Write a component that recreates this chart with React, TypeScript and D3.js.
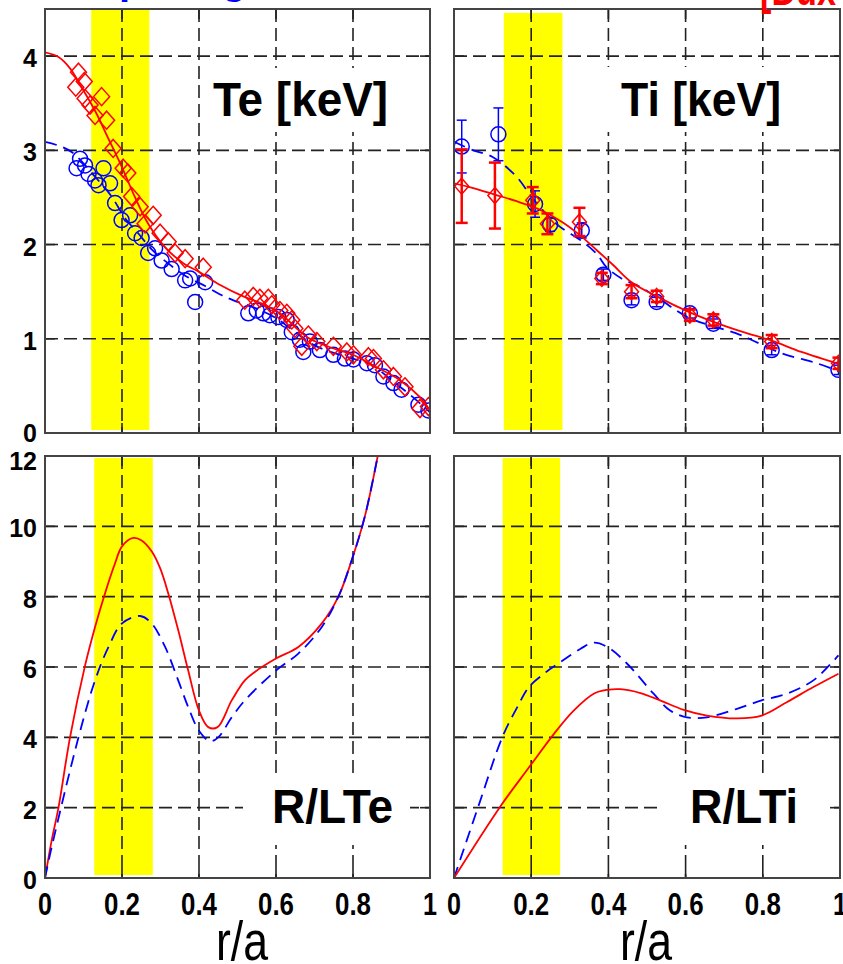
import React from 'react';
import * as d3 from 'd3';

// ---------------- data ----------------
// Te panel: fits [r/a, keV]
const teFitRed: [number, number][] = [
  [0, 4.04], [0.035, 3.99], [0.065, 3.87], [0.095, 3.67], [0.13, 3.42], [0.164, 3.13], [0.2, 2.82],
  [0.234, 2.5], [0.268, 2.22], [0.312, 1.97], [0.36, 1.8], [0.4, 1.71], [0.455, 1.57], [0.515, 1.45],
  [0.56, 1.38], [0.61, 1.27], [0.68, 1.02], [0.74, 0.91], [0.8, 0.83], [0.86, 0.7], [0.922, 0.56],
  [0.974, 0.38], [1.0, 0.24],
];
const teFitBlue: [number, number][] = [
  [0, 3.09], [0.035, 3.05], [0.07, 2.98], [0.13, 2.72], [0.173, 2.51], [0.208, 2.28], [0.242, 2.12],
  [0.277, 1.95], [0.32, 1.8], [0.364, 1.67], [0.416, 1.56], [0.455, 1.47], [0.488, 1.41], [0.55, 1.32],
  [0.6, 1.22], [0.65, 1.07], [0.7, 0.93], [0.75, 0.85], [0.8, 0.79], [0.85, 0.72], [0.9, 0.56],
  [0.95, 0.4], [1.0, 0.22],
];
// Te data points
const teRedPts: [number, number][] = [
  [0.087, 3.83], [0.102, 3.73], [0.08, 3.67], [0.104, 3.55], [0.117, 3.48], [0.147, 3.57], [0.13, 3.37],
  [0.16, 3.32], [0.177, 3.02], [0.203, 2.81], [0.215, 2.76], [0.225, 2.51], [0.247, 2.4], [0.26, 2.22],
  [0.281, 2.31], [0.299, 2.12], [0.32, 2.03], [0.338, 1.91], [0.364, 1.85], [0.411, 1.76],
  [0.519, 1.41], [0.541, 1.45], [0.558, 1.43], [0.58, 1.43], [0.589, 1.36], [0.61, 1.3], [0.628, 1.27],
  [0.641, 1.2], [0.649, 1.11], [0.684, 1.04], [0.706, 0.97], [0.667, 0.92], [0.749, 0.92], [0.784, 0.86],
  [0.801, 0.83], [0.84, 0.81], [0.853, 0.79], [0.879, 0.67], [0.905, 0.6], [0.935, 0.49], [0.974, 0.26],
  [0.996, 0.28],
];
const teBluePts: [number, number][] = [
  [0.091, 2.91], [0.082, 2.81], [0.104, 2.84], [0.113, 2.75], [0.13, 2.68], [0.152, 2.81], [0.139, 2.63],
  [0.169, 2.65], [0.182, 2.44], [0.199, 2.26], [0.221, 2.31], [0.234, 2.12], [0.251, 2.07], [0.268, 1.91],
  [0.286, 1.96], [0.303, 1.83], [0.329, 1.74], [0.364, 1.62], [0.377, 1.64], [0.416, 1.6], [0.39, 1.39],
  [0.528, 1.27], [0.55, 1.3], [0.567, 1.27], [0.584, 1.25], [0.606, 1.23], [0.628, 1.2], [0.641, 1.07],
  [0.662, 0.99], [0.671, 0.86], [0.688, 0.97], [0.714, 0.88], [0.749, 0.83], [0.779, 0.79], [0.801, 0.78],
  [0.836, 0.74], [0.857, 0.72], [0.879, 0.6], [0.905, 0.53], [0.926, 0.46], [0.97, 0.3], [0.996, 0.24],
];

// Ti panel: fits
const tiFitRed: [number, number][] = [
  [0, 2.65], [0.05, 2.6], [0.106, 2.53], [0.162, 2.46], [0.222, 2.37], [0.28, 2.24], [0.326, 2.1],
  [0.37, 1.94], [0.413, 1.78], [0.46, 1.6], [0.525, 1.45], [0.611, 1.28], [0.672, 1.18], [0.75, 1.07],
  [0.823, 0.98], [0.9, 0.86], [1.0, 0.73],
];
const tiFitBlue: [number, number][] = [
  [0, 3.09], [0.05, 3.0], [0.1, 2.93], [0.162, 2.72], [0.2, 2.51], [0.24, 2.32], [0.274, 2.19],
  [0.33, 2.04], [0.37, 1.9], [0.395, 1.76], [0.434, 1.64], [0.482, 1.55], [0.54, 1.4], [0.61, 1.22],
  [0.73, 1.06], [0.77, 0.99], [0.846, 0.85], [0.94, 0.74], [1.0, 0.65],
];
// Ti data points [r/a, keV, error]
const tiBluePts: [number, number, number][] = [
  [0.02, 3.04, 0.28], [0.115, 3.17, 0.28], [0.21, 2.43, 0.14], [0.249, 2.21, 0.07], [0.331, 2.15, 0.08],
  [0.387, 1.68, 0.06], [0.46, 1.41, 0.05], [0.525, 1.39, 0.05], [0.611, 1.27, 0.05], [0.672, 1.16, 0.05],
  [0.823, 0.88, 0.05], [0.996, 0.67, 0.05],
];
const tiRedPts: [number, number, number][] = [
  [0.02, 2.62, 0.39], [0.106, 2.52, 0.35], [0.204, 2.47, 0.14], [0.242, 2.22, 0.11], [0.325, 2.24, 0.15],
  [0.383, 1.64, 0.06], [0.46, 1.5, 0.07], [0.525, 1.45, 0.06], [0.611, 1.25, 0.06], [0.672, 1.2, 0.06],
  [0.823, 0.97, 0.07], [0.996, 0.74, 0.06],
];

// R/LTe
const rlteRed: [number, number][] = [
  [0, 0], [0.017, 1.05], [0.035, 2.0], [0.065, 4.0], [0.104, 6.04], [0.13, 7.14], [0.156, 8.1],
  [0.182, 8.95], [0.2, 9.43], [0.229, 9.67], [0.251, 9.6], [0.277, 9.29], [0.299, 8.81], [0.32, 8.1],
  [0.346, 7.05], [0.372, 5.9], [0.4, 4.76], [0.424, 4.29], [0.448, 4.29], [0.485, 5.05], [0.519, 5.62],
  [0.545, 5.86], [0.6, 6.24], [0.658, 6.57], [0.719, 7.24], [0.762, 8.0], [0.797, 9.05], [0.831, 10.29],
  [0.866, 12.1],
];
const rlteBlue: [number, number][] = [
  [0, 0], [0.017, 0.86], [0.087, 4.0], [0.13, 5.62], [0.165, 6.57], [0.2, 7.24], [0.247, 7.45],
  [0.277, 7.24], [0.312, 6.57], [0.346, 5.62], [0.372, 4.86], [0.4, 4.19], [0.429, 3.89], [0.45, 4.0],
  [0.485, 4.57], [0.519, 5.05], [0.6, 5.9], [0.658, 6.38], [0.719, 7.14], [0.762, 8.0], [0.797, 9.05],
  [0.831, 10.29], [0.866, 12.1],
];
// R/LTi
const rltiRed: [number, number][] = [
  [0, 0], [0.121, 2.05], [0.194, 3.14], [0.259, 4.1], [0.31, 4.76], [0.362, 5.24], [0.397, 5.35],
  [0.431, 5.37], [0.483, 5.26], [0.534, 5.05], [0.595, 4.78], [0.655, 4.62], [0.733, 4.54], [0.797, 4.62],
  [0.862, 5.0], [0.931, 5.43], [0.996, 5.81],
];
const rltiBlue: [number, number][] = [
  [0, 0], [0.065, 2.1], [0.125, 4.0], [0.164, 4.86], [0.194, 5.43], [0.233, 5.81], [0.276, 6.14],
  [0.328, 6.52], [0.362, 6.69], [0.397, 6.57], [0.448, 6.1], [0.517, 5.24], [0.56, 4.76], [0.603, 4.57],
  [0.655, 4.57], [0.733, 4.81], [0.797, 5.05], [0.862, 5.24], [0.931, 5.62], [0.996, 6.33],
];

// shaded yellow band per panel (r/a range)
const bandTL: [number, number] = [0.12, 0.271];
const bandTR: [number, number] = [0.129, 0.281];
const bandBL: [number, number] = [0.128, 0.28];
const bandBR: [number, number] = [0.126, 0.275];

const xTicks = [0.2, 0.4, 0.6, 0.8];
const xTickLabels = ['0', '0.2', '0.4', '0.6', '0.8', '1'];
const xTickLabelValues = [0, 0.2, 0.4, 0.6, 0.8, 1];
const tempTicks = [1, 2, 3, 4];
const tempTickLabels = ['0', '1', '2', '3', '4'];
const gradTicks = [2, 4, 6, 8, 10];
const gradTickLabels = ['0', '2', '4', '6', '8', '10', '12'];

// ---------------- drawing ----------------
const FONT = '"Liberation Sans", Arial, Helvetica, sans-serif';
const RED = '#ff0000';
const BLUE = '#0000ff';
const GRID = '#222';

type PanelProps = {
  id: string;
  x0: number; x1: number; y0: number; y1: number;
  ymax: number; yticks: number[]; band: [number, number]; bandTop: number;
  children?: (x: d3.ScaleLinear<number, number>, y: d3.ScaleLinear<number, number>) => React.ReactNode;
  label: string; labelX: number; labelY: number; labelLen: number;
  labelBox: [number, number, number, number];
};

function Panel(p: PanelProps) {
  const x = d3.scaleLinear().domain([0, 1]).range([p.x0, p.x1]);
  const y = d3.scaleLinear().domain([0, p.ymax]).range([p.y1, p.y0]);
  const tick = 10;
  return (
    <g>
      <defs>
        <clipPath id={`clip-${p.id}`}>
          <rect x={p.x0} y={p.y0} width={p.x1 - p.x0} height={p.y1 - p.y0} />
        </clipPath>
      </defs>
      <rect x={p.x0} y={p.y0} width={p.x1 - p.x0} height={p.y1 - p.y0} fill="#fff" />
      <rect x={x(p.band[0])} y={p.y0 + p.bandTop} width={x(p.band[1]) - x(p.band[0])} height={p.y1 - p.y0 - p.bandTop - 3} fill="#ffff00" />
      {/* dashed grid */}
      {xTicks.map((t) => (
        <line key={`gx${t}`} x1={x(t)} x2={x(t)} y1={p.y0} y2={p.y1} stroke={GRID} strokeWidth={1.6} strokeDasharray="13,6" />
      ))}
      {p.yticks.map((t) => (
        <line key={`gy${t}`} x1={p.x0} x2={p.x1} y1={y(t)} y2={y(t)} stroke={GRID} strokeWidth={1.6} strokeDasharray="13,6" />
      ))}
      {/* solid inward ticks */}
      {xTicks.map((t) => (
        <g key={`tx${t}`}>
          <line x1={x(t)} x2={x(t)} y1={p.y1} y2={p.y1 - tick} stroke={GRID} strokeWidth={1.6} />
          <line x1={x(t)} x2={x(t)} y1={p.y0} y2={p.y0 + tick} stroke={GRID} strokeWidth={1.6} />
        </g>
      ))}
      {p.yticks.map((t) => (
        <g key={`ty${t}`}>
          <line x1={p.x0} x2={p.x0 + tick} y1={y(t)} y2={y(t)} stroke={GRID} strokeWidth={1.6} />
          <line x1={p.x1} x2={p.x1 - tick} y1={y(t)} y2={y(t)} stroke={GRID} strokeWidth={1.6} />
        </g>
      ))}
      {/* label */}
      <rect x={p.labelBox[0]} y={p.labelBox[1]} width={p.labelBox[2]} height={p.labelBox[3]} fill="#fff" />
      <text x={p.labelX} y={p.labelY} fontFamily={FONT} fontWeight="bold" fontSize={48} fill="#000"
        textLength={p.labelLen} lengthAdjust="spacingAndGlyphs">{p.label}</text>
      <g clipPath={`url(#clip-${p.id})`}>{p.children && p.children(x, y)}</g>
      <rect x={p.x0} y={p.y0} width={p.x1 - p.x0} height={p.y1 - p.y0} fill="none" stroke="#444" strokeWidth={2} />
    </g>
  );
}

function curvePath(data: [number, number][], x: d3.ScaleLinear<number, number>, y: d3.ScaleLinear<number, number>) {
  return d3.line<[number, number]>().x((d) => x(d[0])).y((d) => y(d[1])).curve(d3.curveCatmullRom.alpha(0.5))(data) || '';
}

function diamond(cx: number, cy: number, w = 8, h = 9) {
  return `M${cx},${cy - h}L${cx + w},${cy}L${cx},${cy + h}L${cx - w},${cy}Z`;
}

export default function App() {
  const L = { x0: 45, x1: 430 };
  const R = { x0: 454, x1: 840 };
  const T = { y0: 9, y1: 433 };
  const B = { y0: 456, y1: 878 };

  const yTop = d3.scaleLinear().domain([0, 4.5]).range([T.y1, T.y0]);
  const yBot = d3.scaleLinear().domain([0, 12]).range([B.y1, B.y0]);
  const xLeft = d3.scaleLinear().domain([0, 1]).range([L.x0, L.x1]);
  const xRight = d3.scaleLinear().domain([0, 1]).range([R.x0, R.x1]);

  return (
    <svg width={843} height={964} style={{ position: 'absolute', left: 0, top: 0, background: '#fff' }}>
      <rect x={0} y={0} width={843} height={964} fill="#fff" />
      {/* clipped title fragments at the very top */}
      <text x={70} y={-6} fontFamily={FONT} fontWeight="bold" fontSize={40} fill={BLUE}>Exp.</text>
      <text x={222} y={-6} fontFamily={FONT} fontWeight="bold" fontSize={40} fill={BLUE}>gradients</text>

      {/* Te */}
      <Panel id="tl" x0={L.x0} x1={L.x1} y0={T.y0} y1={T.y1} ymax={4.5} yticks={tempTicks} band={bandTL} bandTop={1}
        label="Te [keV]" labelX={213} labelY={116} labelLen={175} labelBox={[203, 68, 195, 64]}>
        {(x, y) => (
          <g>
            <path d={curvePath(teFitBlue, x, y)} fill="none" stroke={BLUE} strokeWidth={1.8} strokeDasharray="12,7" />
            {teBluePts.map((d, i) => (
              <circle key={i} cx={x(d[0])} cy={y(d[1])} r={7.5} fill="none" stroke={BLUE} strokeWidth={1.5} />
            ))}
            <path d={curvePath(teFitRed, x, y)} fill="none" stroke={RED} strokeWidth={1.8} />
            {teRedPts.map((d, i) => (
              <path key={i} d={diamond(x(d[0]), y(d[1]))} fill="none" stroke={RED} strokeWidth={1.5} />
            ))}
          </g>
        )}
      </Panel>

      {/* Ti */}
      <Panel id="tr" x0={R.x0} x1={R.x1} y0={T.y0} y1={T.y1} ymax={4.5} yticks={tempTicks} band={bandTR} bandTop={4}
        label="Ti [keV]" labelX={621} labelY={116} labelLen={160} labelBox={[606, 67, 194, 65]}>
        {(x, y) => (
          <g>
            <path d={curvePath(tiFitBlue, x, y)} fill="none" stroke={BLUE} strokeWidth={1.8} strokeDasharray="12,7" />
            {tiBluePts.map((d, i) => (
              <g key={i}>
                <line x1={x(d[0])} x2={x(d[0])} y1={y(d[1] - d[2])} y2={y(d[1] + d[2])} stroke={BLUE} strokeWidth={1.5} />
                <line x1={x(d[0]) - 5} x2={x(d[0]) + 5} y1={y(d[1] + d[2])} y2={y(d[1] + d[2])} stroke={BLUE} strokeWidth={1.5} />
                <line x1={x(d[0]) - 5} x2={x(d[0]) + 5} y1={y(d[1] - d[2])} y2={y(d[1] - d[2])} stroke={BLUE} strokeWidth={1.5} />
                <circle cx={x(d[0])} cy={y(d[1])} r={7.5} fill="none" stroke={BLUE} strokeWidth={1.5} />
              </g>
            ))}
            <path d={curvePath(tiFitRed, x, y)} fill="none" stroke={RED} strokeWidth={1.8} />
            {tiRedPts.map((d, i) => (
              <g key={i}>
                <line x1={x(d[0])} x2={x(d[0])} y1={y(d[1] - d[2])} y2={y(d[1] + d[2])} stroke={RED} strokeWidth={2.5} />
                <line x1={x(d[0]) - 6} x2={x(d[0]) + 6} y1={y(d[1] + d[2])} y2={y(d[1] + d[2])} stroke={RED} strokeWidth={2.5} />
                <line x1={x(d[0]) - 6} x2={x(d[0]) + 6} y1={y(d[1] - d[2])} y2={y(d[1] - d[2])} stroke={RED} strokeWidth={2.5} />
                <path d={diamond(x(d[0]), y(d[1]), 7, 8)} fill="none" stroke={RED} strokeWidth={1.5} />
              </g>
            ))}
          </g>
        )}
      </Panel>

      {/* R/LTe */}
      <Panel id="bl" x0={L.x0} x1={L.x1} y0={B.y0} y1={B.y1} ymax={12} yticks={gradTicks} band={bandBL} bandTop={2}
        label="R/LTe" labelX={272} labelY={823} labelLen={121} labelBox={[243, 775, 167, 70]}>
        {(x, y) => (
          <g>
            <path d={curvePath(rlteRed, x, y)} fill="none" stroke={RED} strokeWidth={1.8} />
            <path d={curvePath(rlteBlue, x, y)} fill="none" stroke={BLUE} strokeWidth={1.8} strokeDasharray="12,7" />
          </g>
        )}
      </Panel>

      {/* R/LTi */}
      <Panel id="br" x0={R.x0} x1={R.x1} y0={B.y0} y1={B.y1} ymax={12} yticks={gradTicks} band={bandBR} bandTop={2}
        label="R/LTi" labelX={690} labelY={823} labelLen={108} labelBox={[662, 775, 166, 70]}>
        {(x, y) => (
          <g>
            <path d={curvePath(rltiBlue, x, y)} fill="none" stroke={BLUE} strokeWidth={1.8} strokeDasharray="12,7" />
            <path d={curvePath(rltiRed, x, y)} fill="none" stroke={RED} strokeWidth={1.8} />
          </g>
        )}
      </Panel>

      {/* y tick labels */}
      {tempTickLabels.map((s, i) => (
        <text key={`ytl${i}`} x={37} y={yTop(i) + (i === 0 ? 9 : 11)} textAnchor="end" fontFamily={FONT} fontWeight="bold" fontSize={25}>{s}</text>
      ))}
      {gradTickLabels.map((s, i) => (
        <text key={`ybl${i}`} x={37} y={yBot(i * 2) + (i === 6 ? 14 : 11)} textAnchor="end" fontFamily={FONT} fontWeight="bold" fontSize={25}>{s}</text>
      ))}

      {/* x tick labels */}
      {[xLeft, xRight].map((xs, k) =>
        xTickLabels.map((s, i) => (
          <text key={`xl${k}-${i}`} x={xs(xTickLabelValues[i]) - (s.length === 1 ? 7 : 18)} y={915}
            fontFamily={FONT} fontWeight="bold" fontSize={31}
            textLength={s.length === 1 ? 14 : 36} lengthAdjust="spacingAndGlyphs">{s}</text>
        ))
      )}

      {/* axis titles */}
      <text x={216} y={960} fontFamily={FONT} fontSize={55} textLength={52} lengthAdjust="spacingAndGlyphs">r/a</text>
      <text x={620} y={960} fontFamily={FONT} fontSize={55} textLength={52} lengthAdjust="spacingAndGlyphs">r/a</text>

      {/* clipped red title fragment */}
      <text x={760} y={5} fontFamily={FONT} fontWeight="bold" fontSize={42} fill={RED} textLength={76} lengthAdjust="spacingAndGlyphs">[Dux</text>
    </svg>
  );
}
